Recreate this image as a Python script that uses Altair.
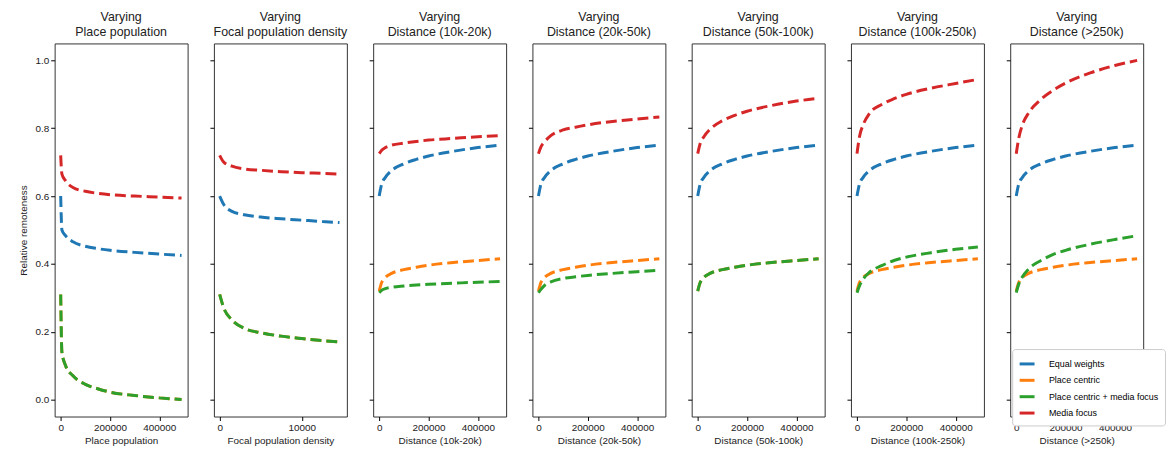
import altair as alt
import pandas as pd

# ---------------- data ----------------
SERIES = ["Equal weights", "Place centric", "Place centric + media focus", "Media focus"]
COLORS = ["#1f77b4", "#ff7f0e", "#2ca02c", "#d62728"]

PANELS = ["Place population", "Focal population density", "Distance (10k-20k)",
          "Distance (20k-50k)", "Distance (50k-100k)", "Distance (100k-250k)", "Distance (>250k)"]

X_POP = [0, 5000, 20000, 50000, 100000, 150000, 200000, 300000, 400000, 490000]
X_DEN = [0, 500, 1500, 3000, 5000, 7500, 10000, 12500, 14600]
X_DIST = [0, 10000, 25000, 50000, 100000, 150000, 200000, 300000, 400000, 490000]

# Place population
pop_equal = [0.60, 0.50, 0.483, 0.465, 0.452, 0.445, 0.440, 0.434, 0.429, 0.425]
pop_place = [0.31, 0.14, 0.10, 0.07, 0.045, 0.032, 0.022, 0.012, 0.005, 0.0]
pop_pcm = [0.31, 0.14, 0.10, 0.07, 0.045, 0.032, 0.022, 0.012, 0.005, 0.0]
pop_media = [0.72, 0.665, 0.645, 0.625, 0.614, 0.608, 0.604, 0.600, 0.597, 0.594]

# Focal population density
den_equal = [0.60, 0.575, 0.555, 0.545, 0.538, 0.533, 0.529, 0.525, 0.522]
den_place = [0.31, 0.27, 0.235, 0.21, 0.197, 0.187, 0.18, 0.174, 0.17]
den_pcm = [0.31, 0.27, 0.235, 0.21, 0.197, 0.187, 0.18, 0.174, 0.17]
den_media = [0.72, 0.70, 0.688, 0.68, 0.676, 0.672, 0.669, 0.667, 0.665]

# Distance panels (equal weights and place centric are the same in every distance panel)
dist_equal = [0.60, 0.635, 0.655, 0.675, 0.695, 0.708, 0.718, 0.732, 0.743, 0.75]
dist_place = [0.32, 0.345, 0.36, 0.372, 0.383, 0.39, 0.396, 0.404, 0.41, 0.415]

d1_pcm = [0.315, 0.322, 0.327, 0.331, 0.335, 0.338, 0.340, 0.343, 0.346, 0.348]
d1_media = [0.725, 0.735, 0.743, 0.75, 0.756, 0.761, 0.765, 0.77, 0.775, 0.778]

d2_pcm = [0.315, 0.325, 0.337, 0.347, 0.357, 0.362, 0.366, 0.372, 0.377, 0.381]
d2_media = [0.725, 0.745, 0.76, 0.778, 0.795, 0.803, 0.81, 0.82, 0.827, 0.833]

d3_pcm = [0.32, 0.345, 0.36, 0.372, 0.383, 0.39, 0.396, 0.404, 0.41, 0.415]
d3_media = [0.725, 0.755, 0.775, 0.797, 0.822, 0.838, 0.85, 0.867, 0.88, 0.888]

d4_pcm = [0.315, 0.335, 0.355, 0.375, 0.395, 0.41, 0.42, 0.433, 0.443, 0.45]
d4_media = [0.725, 0.775, 0.81, 0.843, 0.87, 0.887, 0.90, 0.918, 0.932, 0.944]

d5_pcm = [0.315, 0.34, 0.362, 0.385, 0.41, 0.428, 0.44, 0.458, 0.472, 0.483]
d5_media = [0.725, 0.77, 0.81, 0.845, 0.885, 0.912, 0.933, 0.963, 0.985, 1.0]

PANEL_DATA = [
    (X_POP, [pop_equal, pop_place, pop_pcm, pop_media]),
    (X_DEN, [den_equal, den_place, den_pcm, den_media]),
    (X_DIST, [dist_equal, dist_place, d1_pcm, d1_media]),
    (X_DIST, [dist_equal, dist_place, d2_pcm, d2_media]),
    (X_DIST, [dist_equal, dist_place, d3_pcm, d3_media]),
    (X_DIST, [dist_equal, dist_place, d4_pcm, d4_media]),
    (X_DIST, [dist_equal, dist_place, d5_pcm, d5_media]),
]

X_DOMAINS = [[-24500, 514500], [-700, 15500]] + [[-24500, 514500]] * 5
X_TICKS = [[0, 200000, 400000], [0, 10000]] + [[0, 200000, 400000]] * 5

FONT = "Liberation Sans"
W, H = 134, 376

panels = []
for i, (name, (xs, ys)) in enumerate(zip(PANELS, PANEL_DATA)):
    rows = []
    for s, vals in zip(SERIES, ys):
        for xv, yv in zip(xs, vals):
            rows.append({"series": s, "x": xv, "y": yv})
    df = pd.DataFrame(rows)
    last = i == len(PANELS) - 1
    if last:
        leg = alt.Legend(title=None, orient="none", legendX=2, legendY=308,
                         fillColor="white", strokeColor="#cccccc", padding=6,
                         cornerRadius=3, labelFont=FONT, labelFontSize=9,
                         symbolType="stroke", symbolStrokeWidth=3, symbolSize=225,
                         rowPadding=1.5, labelOffset=13, labelLimit=200)
    else:
        leg = None
    layers = []
    for s in SERIES:
        layers.append(
            alt.Chart(df).transform_filter(alt.datum.series == s)
            .mark_line(strokeWidth=3, strokeDash=[11, 5], interpolate="monotone", clip=True)
            .encode(
                x=alt.X("x:Q", scale=alt.Scale(domain=X_DOMAINS[i], nice=False, zero=False),
                        axis=alt.Axis(title=PANELS[i], values=X_TICKS[i], format="d",
                                      grid=False, tickSize=4, tickColor="black",
                                      domain=False, labelFont=FONT, labelFontSize=10,
                                      titleFont=FONT, titleFontSize=10, titleFontWeight="normal",
                                      labelColor="#222", titleColor="#222", titlePadding=3,
                                      labelFlush=False)),
                y=alt.Y("y:Q", scale=alt.Scale(domain=[-0.05, 1.05], nice=False, zero=False),
                        axis=alt.Axis(title="Relative remoteness" if i == 0 else None,
                                      values=[0.0, 0.2, 0.4, 0.6, 0.8, 1.0], format=".1f",
                                      labels=(i == 0), grid=False, tickSize=4,
                                      tickColor="black", domain=False, labelFont=FONT,
                                      labelFontSize=10, titleFont=FONT, titleFontSize=10,
                                      titleFontWeight="normal", labelColor="#222",
                                      titleColor="#222", titlePadding=6)),
                color=alt.Color("series:N", scale=alt.Scale(domain=SERIES, range=COLORS),
                                legend=leg),
            )
        )
    panel = alt.layer(*layers).properties(
        width=W, height=H,
        title=alt.TitleParams(["Varying", name], font=FONT, fontSize=12.5,
                              fontWeight="normal", color="#222", lineHeight=15, offset=5),
    )
    panels.append(panel)

chart = alt.hconcat(*panels, spacing=26.5, bounds="flush").resolve_scale(
    x="independent", color="independent"
).resolve_legend(color="independent").configure_view(
    stroke="#333333", strokeWidth=1
).properties(padding={"left": 10, "top": 1, "right": 0, "bottom": 0})

chart.save("out.html", embed_options={"renderer": "svg", "actions": False})
